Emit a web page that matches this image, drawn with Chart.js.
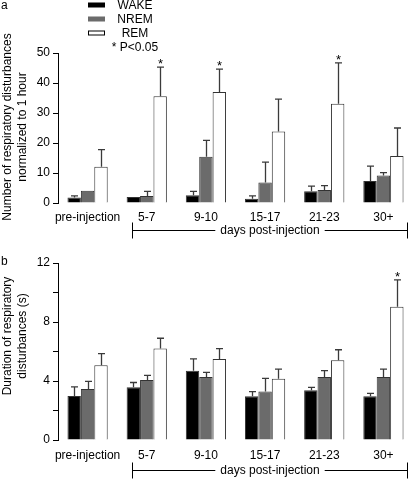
<!DOCTYPE html>
<html>
<head>
<meta charset="utf-8">
<script src="https://cdn.jsdelivr.net/npm/chart.js@4/dist/chart.umd.min.js"></script>
<style>
body { margin: 0; background: #fff; }
canvas { display: block; }
</style>
</head>
<body>
<canvas id="chartA" width="415" height="240"></canvas>
<canvas id="chartB" width="415" height="240"></canvas>
<script>
// Data
const categories = ["pre-injection", "5-7", "9-10", "15-17", "21-23", "30+"];
const seriesNames = ["WAKE", "NREM", "REM"];

// panel a: number of disturbances per hour
const countWake = [1.8, 2.0, 2.6, 1.4, 3.9, 7.3];
const countWakeErr = [0.6, 0, 1.3, 1.0, 1.7, 5.0];
const countNrem = [4.1, 2.3, 15.4, 6.8, 4.3, 9.2];
const countNremErr = [0, 1.6, 5.5, 6.8, 1.5, 0.9];
const countRem = [12.1, 35.6, 37.0, 23.8, 33.1, 15.7];
const countRemErr = [5.7, 9.7, 7.6, 10.8, 13.6, 9.3];
const countRemStars = [false, true, true, false, true, false];

// panel b: duration of disturbances (s)
const durWake = [2.98, 3.57, 4.7, 2.96, 3.37, 2.96];
const durWakeErr = [0.62, 0.33, 0.8, 0.32, 0.2, 0.2];
const durNrem = [3.46, 4.07, 4.27, 3.28, 4.27, 4.27];
const durNremErr = [0.52, 0.31, 0.32, 0.9, 0.43, 0.53];
const durRem = [5.06, 6.2, 5.5, 4.16, 5.4, 9.04];
const durRemErr = [0.79, 0.7, 0.7, 0.64, 0.72, 1.81];
const durRemStars = [false, false, false, false, false, true];

const FONT = '"Liberation Sans", Arial, sans-serif';
const fills = ["#000000", "#6b6b6b", "#ffffff"];

// Error bars and asterisks
const errorBars = {
    id: "errorBars",
    afterDatasetsDraw(chart) {
        const ctx = chart.ctx;
        const y = chart.scales.y;
        ctx.save();
        chart.data.datasets.forEach((ds, i) => {
            const meta = chart.getDatasetMeta(i);
            meta.data.forEach((bar, j) => {
                const e = ds.errors[j];
                const x = Math.round(bar.x) + 0.5;
                const yBar = y.getPixelForValue(ds.data[j]);
                const yTop = y.getPixelForValue(ds.data[j] + e);
                if (e > 0) {
                    ctx.strokeStyle = "#3a3a3a";
                    ctx.lineWidth = 1.3;
                    ctx.beginPath();
                    ctx.moveTo(x, yBar);
                    ctx.lineTo(x, yTop);
                    ctx.moveTo(x - 3.5, yTop);
                    ctx.lineTo(x + 3.5, yTop);
                    ctx.stroke();
                }
                if (ds.stars && ds.stars[j]) {
                    ctx.fillStyle = "#000";
                    ctx.font = "13px " + FONT;
                    ctx.textAlign = "center";
                    ctx.textBaseline = "alphabetic";
                    ctx.fillText("*", x, yTop + 1);
                }
            });
        });
        ctx.restore();
    }
};

// Panel letter, y title, bracket, legend
const extras = {
    id: "extras",
    afterDraw(chart, args, opts) {
        const ctx = chart.ctx;
        const x = chart.scales.x;
        ctx.save();
        ctx.fillStyle = "#000";
        ctx.font = "12px " + FONT;
        ctx.textBaseline = "middle";

        ctx.textAlign = "left";
        ctx.fillText(opts.letter, 1, opts.letterY);

        // y title
        ctx.save();
        ctx.translate(0, opts.titleY);
        ctx.rotate(-Math.PI / 2);
        ctx.textAlign = "center";
        ctx.fillText(opts.title[0], 0, 8);
        ctx.fillText(opts.title[1], 0, 23);
        ctx.restore();

        // bracket
        const left = Math.round(x.getPixelForValue(1) - 15) + 0.5;
        const right = Math.round(x.getPixelForValue(5) + 24) + 0.5;
        const by = opts.bracketY + 0.5;
        const label = "days post-injection";
        const mid = (left + right) / 2;
        const half = ctx.measureText(label).width / 2 + 5;
        ctx.strokeStyle = "#000";
        ctx.lineWidth = 1;
        ctx.beginPath();
        ctx.moveTo(left, by - 8); ctx.lineTo(left, by + 8);
        ctx.moveTo(right, by - 8); ctx.lineTo(right, by + 8);
        ctx.moveTo(left, by); ctx.lineTo(mid - half, by);
        ctx.moveTo(mid + half, by); ctx.lineTo(right, by);
        ctx.stroke();
        ctx.textAlign = "center";
        ctx.fillText(label, mid, by);

        // legend
        if (opts.legend) {
            const rows = seriesNames.concat(["* P<0.05"]);
            rows.forEach((name, k) => {
                const cy = 5 + k * 14;
                if (k < 3) {
                    ctx.fillStyle = fills[k];
                    ctx.fillRect(88, cy - 2.5, 17, 5);
                    if (k === 2) {
                        ctx.strokeStyle = "#000";
                        ctx.strokeRect(88.5, cy - 2, 16, 4);
                    }
                }
                ctx.fillStyle = "#000";
                ctx.textAlign = "center";
                ctx.fillText(name, 135, cy + 0.5);
            });
        }
        ctx.restore();
    }
};

function makeDatasets(values, errors, stars) {
    return seriesNames.map((name, i) => ({
        label: name,
        data: values[i],
        errors: errors[i],
        stars: i === 2 ? stars : null,
        backgroundColor: fills[i],
        borderColor: "#333",
        borderWidth: 1,
        categoryPercentage: 0.68,
        barPercentage: 1.0
    }));
}

function makeChart(id, datasets, yMax, yStep, labelEvery, padTop, xHeight, tickPad, extraOpts) {
    return new Chart(document.getElementById(id), {
        type: "bar",
        data: { labels: categories, datasets: datasets },
        plugins: [errorBars, extras],
        options: {
            responsive: false,
            animation: false,
            layout: { padding: { top: padTop, right: 2, left: 0, bottom: 0 } },
            plugins: {
                legend: { display: false },
                tooltip: { enabled: false },
                extras: extraOpts
            },
            scales: {
                x: {
                    grid: { display: false, drawTicks: false },
                    border: { display: false },
                    ticks: { color: "#000", font: { family: FONT, size: 12 }, padding: tickPad, maxRotation: 0, autoSkip: false },
                    afterFit: (s) => { s.height = xHeight; }
                },
                y: {
                    min: 0,
                    max: yMax,
                    ticks: {
                        stepSize: yStep,
                        color: "#000",
                        padding: 3,
                        font: { family: FONT, size: 12 },
                        callback: (v) => (v % labelEvery === 0 ? v : "")
                    },
                    grid: { drawOnChartArea: false, drawTicks: true, tickLength: 5, color: "#000" },
                    border: { color: "#000", width: 1 },
                    afterFit: (s) => { s.width = 58; }
                }
            }
        }
    });
}

makeChart("chartA",
    makeDatasets([countWake, countNrem, countRem], [countWakeErr, countNremErr, countRemErr], countRemStars),
    50, 10, 10, 53, 37, 7,
    { letter: "a", letterY: 6, title: ["Number of respiratory disturbances", "normalized to 1 hour"], titleY: 127, bracketY: 230, legend: true });

makeChart("chartB",
    makeDatasets([durWake, durNrem, durRem], [durWakeErr, durNremErr, durRemErr], durRemStars),
    12, 2, 4, 23, 40, 8,
    { letter: "b", letterY: 22, title: ["Duration of respiratory", "disturbances (s)"], titleY: 96, bracketY: 230, legend: false });
</script>
</body>
</html>
